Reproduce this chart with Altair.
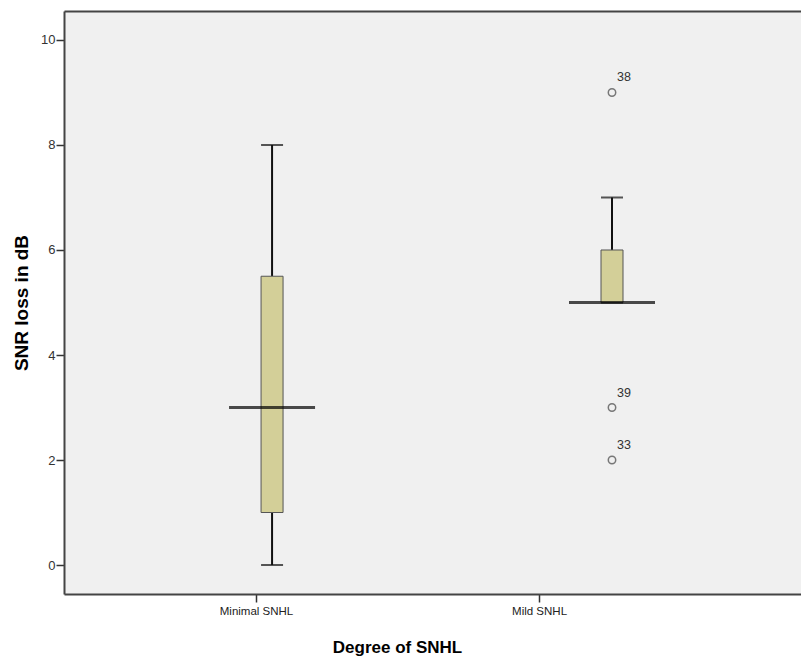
import altair as alt
import pandas as pd

categories = ["Minimal SNHL", "Mild SNHL"]
lower_whisker = [0, 5]
q1 = [1, 5]
median = [3, 5]
q3 = [5.5, 6]
upper_whisker = [8, 7]

outlier_group = ["Mild SNHL", "Mild SNHL", "Mild SNHL"]
outlier_value = [9, 3, 2]
outlier_id = ["38", "39", "33"]

box_df = pd.DataFrame({
    "group": categories, "lo": lower_whisker, "q1": q1,
    "med": median, "q3": q3, "hi": upper_whisker,
})
out_df = pd.DataFrame({"group": outlier_group, "v": outlier_value, "id": outlier_id})

W, H = 737, 583

yscale = alt.Scale(domain=[-0.552, 10.552], nice=False, zero=False)
yaxis = alt.Axis(values=[0, 2, 4, 6, 8, 10], grid=False, tickSize=8, tickWidth=1.5,
                 tickColor="#333333", domainColor="#444444", domainWidth=2,
                 labelFont="Liberation Sans", labelFontSize=13, labelColor="#333333",
                 labelPadding=1, title="SNR loss in dB", titleFont="Liberation Sans",
                 titleFontSize=19, titleFontWeight="bold", titleColor="#000000",
                 titlePadding=9)

# box positions scale (top axis draws only the top frame line)
xbox = alt.X("group:N", sort=categories,
             scale=alt.Scale(type="point", domain=categories, padding=0.584, align=0.524),
             axis=alt.Axis(orient="top", labels=False, ticks=False, title=None,
                           domain=True, domainColor="#444444", domainWidth=2, grid=False))

# axis layer (labels placed like the reference)
axis_layer = alt.Chart(box_df).mark_point(opacity=0).encode(
    x=alt.X("group:N", sort=categories,
            scale=alt.Scale(type="point", domain=categories, padding=0.802, align=0.423),
            axis=alt.Axis(orient="bottom", title="Degree of SNHL", labelAngle=0,
                          tickSize=8, tickColor="#333333", tickWidth=1.5,
                          domainColor="#444444", domainWidth=2, grid=False,
                          labelFont="Liberation Sans", labelFontSize=11.5,
                          labelColor="#222222", labelPadding=3,
                          titleFont="Liberation Sans", titleFontSize=17,
                          titleFontWeight="bold", titleColor="#000000",
                          titleX=333, titleY=53, titleBaseline="middle")),
    y=alt.Y("med:Q", scale=yscale, axis=yaxis),
)

base = alt.Chart(box_df)
whisk_lo = base.mark_rule(color="#111111", strokeWidth=2).encode(
    x=xbox, y=alt.Y("lo:Q", scale=yscale), y2="q1:Q")
whisk_hi = base.mark_rule(color="#111111", strokeWidth=2).encode(
    x=xbox, y=alt.Y("q3:Q", scale=yscale), y2="hi:Q")
cap_lo = base.mark_tick(color="#111111", thickness=2, size=22, orient="horizontal").encode(
    x=xbox, y=alt.Y("lo:Q", scale=yscale))
cap_hi = base.mark_tick(color="#111111", thickness=2, size=22, orient="horizontal").encode(
    x=xbox, y=alt.Y("hi:Q", scale=yscale))
box = base.mark_bar(size=22, fill="#D3CF98", stroke="#555555", strokeWidth=1).encode(
    x=xbox, y=alt.Y("q1:Q", scale=yscale), y2="q3:Q")
med = base.mark_tick(color="#000000", thickness=3, size=86, orient="horizontal").encode(
    x=xbox, y=alt.Y("med:Q", scale=yscale))

ob = alt.Chart(out_df)
pts = ob.mark_point(shape="circle", size=55, filled=False, color="#444444", strokeWidth=1.5).encode(
    x=xbox, y=alt.Y("v:Q", scale=yscale))
labels = ob.mark_text(align="left", baseline="middle", dx=5, dy=-15, fontSize=12.5,
                      font="Liberation Sans", color="#333333").encode(
    x=xbox, y=alt.Y("v:Q", scale=yscale), text="id:N")

boxes = alt.layer(whisk_lo, whisk_hi, cap_lo, cap_hi, box, med, pts, labels)

chart = alt.layer(axis_layer, boxes).resolve_scale(x="independent").properties(
    width=W, height=H,
    autosize=alt.AutoSizeParams(type="none"),
    padding={"left": 56, "top": 3, "right": 0, "bottom": 62},
    background="white",
).configure_view(fill="#F0F0F0", stroke=None)

chart.save("out.html", embed_options={"renderer": "svg", "actions": False})
